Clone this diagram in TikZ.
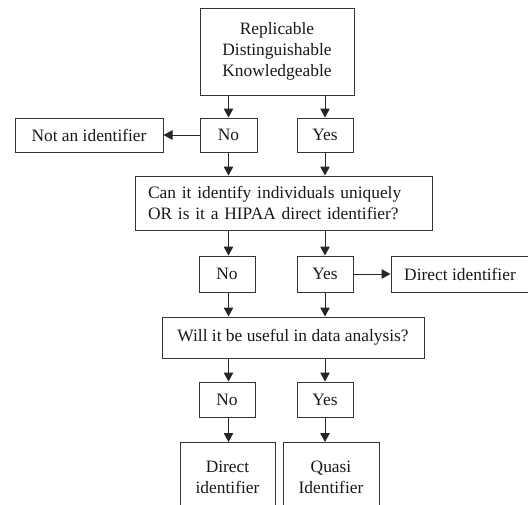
\documentclass[tikz,border=0pt]{standalone}
\usepackage{fontspec}
\setmainfont{Liberation Serif}
\usetikzlibrary{arrows.meta}
\begin{document}
\begin{tikzpicture}[x=1pt,y=-1pt,
  box/.style={draw=black!80, line width=1pt, inner sep=0pt, align=center,
    font=\fontsize{17.4}{21}\selectfont, text=black!90},
  arr/.style={draw=black!85, line width=1pt, -{Triangle[length=9pt,width=9.5pt]}}]
\useasboundingbox (0,0) rectangle (528,504);
\clip (0,0) rectangle (528,504);
\node[box, minimum width=154pt, minimum height=87pt] (top) at (277,51.5) {Replicable\\Distinguishable\\Knowledgeable};
\node[box, minimum width=57pt, minimum height=34pt] (no1) at (228.5,135) {No};
\node[box, minimum width=56pt, minimum height=34pt] (yes1) at (325,135) {Yes};
\node[box, minimum width=148pt, minimum height=34pt] (notid) at (89,135) {Not an identifier};
\node[box, minimum height=54pt, text width=271pt, inner xsep=13pt, align=left] (q1) at (283.5,203) {Can it identify individuals uniquely\\OR is it a HIPAA direct identifier?};
\node[box, minimum width=56pt, minimum height=36pt] (no2) at (227,274) {No};
\node[box, minimum width=56pt, minimum height=36pt] (yes2) at (325,274) {Yes};
\node[box, minimum width=138pt, minimum height=36pt] (dirid1) at (460,274) {Direct identifier};
\node[box, minimum width=262pt, minimum height=41pt] (q2) at (293,337.5) {Will it be useful in data analysis?};
\node[box, minimum width=56pt, minimum height=35pt] (no3) at (227,399.5) {No};
\node[box, minimum width=56pt, minimum height=35pt] (yes3) at (325,399.5) {Yes};
\node[box, minimum width=95pt, minimum height=70pt, anchor=north] (dirid2) at (227.5,442) {Direct\\identifier};
\node[box, minimum width=96pt, minimum height=70pt, anchor=north] (quasi) at (331,442) {Quasi\\Identifier};
% connectors
\draw[arr] (top.south -| no1) -- (no1.north);
\draw[arr] (top.south -| yes1) -- (yes1.north);
\draw[arr] (no1.west) -- (notid.east);
\draw[arr] (no1.south) -- (q1.north -| no1);
\draw[arr] (yes1.south) -- (q1.north -| yes1);
\draw[arr] (q1.south -| no1) -- (no2.north -| no1);
\draw[arr] (q1.south -| yes1) -- (yes2.north);
\draw[arr] (yes2.east) -- (dirid1.west);
\draw[arr] (no2.south -| no1) -- (q2.north -| no1);
\draw[arr] (yes2.south) -- (q2.north -| yes2);
\draw[arr] (q2.south -| no1) -- (no3.north -| no1);
\draw[arr] (q2.south -| yes2) -- (yes3.north);
\draw[arr] (no3.south -| no1) -- (dirid2.north -| no1);
\draw[arr] (yes3.south) -- (quasi.north -| yes3);
\end{tikzpicture}
\end{document}
